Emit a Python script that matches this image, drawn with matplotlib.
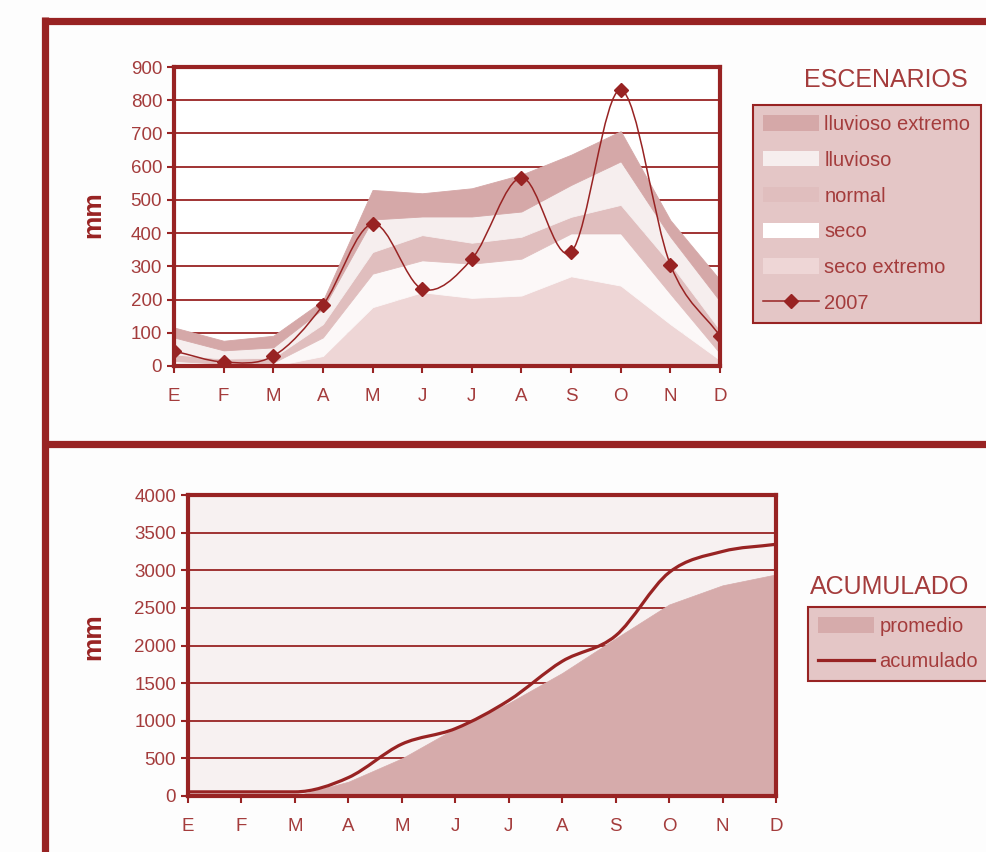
import matplotlib
matplotlib.use('Agg')
import numpy as np
import matplotlib.pyplot as plt
from matplotlib.path import Path
from matplotlib.patches import PathPatch, Patch
from matplotlib.lines import Line2D

# datos
meses = ['E', 'F', 'M', 'A', 'M', 'J', 'J', 'A', 'S', 'O', 'N', 'D']

# limites superiores de cada escenario (mm)
seco_extremo = [0, 0, 0, 30, 177, 222, 205, 212, 270, 242, 126, 18]
seco = [15, 7, 10, 86, 278, 318, 308, 323, 399, 399, 217, 38]
normal = [35, 22, 25, 126, 343, 394, 371, 389, 449, 485, 308, 108]
lluvioso = [86, 47, 56, 172, 441, 450, 450, 465, 545, 616, 389, 195]
lluvioso_extremo = [116, 76, 91, 197, 530, 520, 535, 576, 636, 707, 439, 259]
lluvia_2007 = [45, 12, 30, 183, 428, 232, 322, 567, 343, 831, 305, 90]

# acumulado (mm)
promedio = [0, 0, 0, 190, 500, 900, 1235, 1635, 2095, 2545, 2800, 2945]
acumulado = [55, 55, 55, 245, 690, 895, 1270, 1790, 2130, 2970, 3250, 3345]

rojo = '#982323'
texto = '#a43c3c'
c_lluv_ext = '#d5a8a8'
c_lluv = '#f6eeee'
c_normal = '#e0bebe'
c_seco = '#fcf8f8'
c_seco_ext = '#eed6d6'
c_leyenda = '#e4c6c6'

plt.rcParams['font.family'] = ['Liberation Sans', 'DejaVu Sans']
W, H = 987, 852
fig = plt.figure(figsize=(W / 100, H / 100), dpi=100)
fig.patch.set_facecolor('#fdfdfd')


def rect(x0, y0, x1, y1):
    # pixeles -> coordenadas de figura
    return [x0 / W, 1 - y1 / H, (x1 - x0) / W, (y1 - y0) / H]


def suave(x, y, monotono=False):
    # curva bezier que pasa por los puntos
    n = len(x)
    d = [(y[i + 1] - y[i]) / (x[i + 1] - x[i]) for i in range(n - 1)]
    m = []
    for i in range(n):
        if i == 0:
            m.append(d[0])
        elif i == n - 1:
            m.append(d[-1])
        else:
            m.append((d[i - 1] + d[i]) / 2)
            if monotono and d[i - 1] * d[i] <= 0:
                m[i] = 0
    if monotono:
        m[0] = 0 if d[0] == 0 else m[0]
    verts = [(x[0], y[0])]
    codes = [Path.MOVETO]
    for i in range(n - 1):
        h = x[i + 1] - x[i]
        verts += [(x[i] + h / 3, y[i] + m[i] * h / 3),
                  (x[i + 1] - h / 3, y[i + 1] - m[i + 1] * h / 3),
                  (x[i + 1], y[i + 1])]
        codes += [Path.CURVE4] * 3
    return Path(verts, codes)


def estilo(ax, ymax, paso):
    ax.set_xlim(0, 11)
    ax.set_ylim(0, ymax)
    ax.set_xticks(range(12))
    ax.set_xticklabels(meses)
    ax.set_yticks(np.arange(0, ymax + 1, paso))
    ax.grid(axis='y', color=rojo, lw=1.3)
    ax.set_axisbelow(True)
    for s in ax.spines.values():
        s.set_color(rojo)
        s.set_linewidth(3)
    ax.tick_params(colors=rojo, labelcolor=texto, labelsize=13.5,
                   length=5, width=1.5, direction='out')
    ax.tick_params(axis='x', pad=11)


x = np.arange(12)

# --- grafico superior: escenarios ---
ax1 = fig.add_axes(rect(174, 67, 720, 366))
ax1.set_facecolor('white')
capas = [(np.zeros(12), seco_extremo, c_seco_ext), (seco_extremo, seco, c_seco),
         (seco, normal, c_normal), (normal, lluvioso, c_lluv),
         (lluvioso, lluvioso_extremo, c_lluv_ext)]
for abajo, arriba, c in capas:
    ax1.fill_between(x, abajo, arriba, fc=c, ec=c, lw=0.6, zorder=2)
ax1.add_patch(PathPatch(suave(x, lluvia_2007), fill=False, ec=rojo, lw=1.1, zorder=4))
ax1.plot(x, lluvia_2007, 'D', color=rojo, ms=7.5, zorder=5)
estilo(ax1, 900, 100)

fig.text(886 / W, 1 - 80 / H, 'ESCENARIOS', color=texto, fontsize=18,
         ha='center', va='center')
h1 = [Patch(fc=c_lluv_ext, ec='none'), Patch(fc=c_lluv, ec='none'),
      Patch(fc=c_normal, ec='none'), Patch(fc='white', ec='none'),
      Patch(fc=c_seco_ext, ec='none'),
      Line2D([], [], color=rojo, lw=1.1, marker='D', ms=7)]
l1 = ['lluvioso extremo', 'lluvioso', 'normal', 'seco', 'seco extremo', '2007']
leg1 = fig.legend(h1, l1, loc='upper left', bbox_to_anchor=(753 / W, 1 - 105 / H),
                  fontsize=14.5, frameon=True, fancybox=False, facecolor=c_leyenda,
                  edgecolor=rojo, framealpha=1, handlelength=2.8, handleheight=0.8,
                  handletextpad=0.25, labelspacing=0.83, borderpad=0.5,
                  borderaxespad=0, labelcolor=texto)
leg1.get_frame().set_linewidth(1.5)

# --- grafico inferior: acumulado ---
ax2 = fig.add_axes(rect(188, 495, 776, 796))
ax2.set_facecolor('#f7f1f1')
ax2.fill_between(x, 0, promedio, fc='#d6abab', ec='#d6abab', lw=0.5, zorder=2)
ax2.add_patch(PathPatch(suave(x, acumulado, True), fill=False, ec=rojo, lw=2.3,
                        zorder=4))
estilo(ax2, 4000, 500)

fig.text(890 / W, 1 - 587 / H, 'ACUMULADO', color=texto, fontsize=18,
         ha='center', va='center')
h2 = [Patch(fc='#d6abab', ec='none'), Line2D([], [], color=rojo, lw=2.3)]
leg2 = fig.legend(h2, ['promedio', 'acumulado'], loc='upper left',
                  bbox_to_anchor=(808 / W, 1 - 607 / H), fontsize=14.5, frameon=True,
                  fancybox=False, facecolor=c_leyenda, edgecolor=rojo, framealpha=1,
                  handlelength=2.8, handleheight=0.8, handletextpad=0.25,
                  labelspacing=0.8, borderpad=0.5, borderaxespad=0,
                  labelcolor=texto)
leg2.get_frame().set_linewidth(1.5)

# etiquetas mm
for yc in (215, 637):
    fig.text(93 / W, 1 - yc / H, 'mm', rotation=90, color=rojo, fontsize=19,
             fontweight='bold', ha='center', va='center')

# marco exterior
for (xa, ya, xb, yb) in [(45.5, 17, 45.5, 852), (42, 20.5, 987, 20.5),
                         (42, 444.5, 987, 444.5)]:
    fig.add_artist(Line2D([xa / W, xb / W], [1 - ya / H, 1 - yb / H],
                          color=rojo, lw=5.2, solid_capstyle='butt'))

plt.savefig('out.png', dpi=100, facecolor=fig.get_facecolor())
